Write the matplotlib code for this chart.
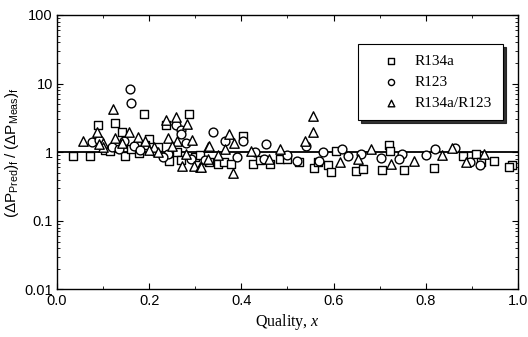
import matplotlib
matplotlib.use("Agg")
import matplotlib.pyplot as plt
from matplotlib.ticker import LogLocator, MultipleLocator, FixedLocator, NullFormatter, FixedFormatter

plt.rcParams["mathtext.fontset"] = "custom"
plt.rcParams["mathtext.rm"] = "Liberation Sans"
plt.rcParams["mathtext.it"] = "Liberation Serif:italic"
plt.rcParams["mathtext.bf"] = "Liberation Sans:bold"

# ---- data ----
r134a_x = [0.035, 0.072, 0.088, 0.125, 0.14, 0.188, 0.2, 0.148, 0.178, 0.237, 0.286, 0.243,
           0.22, 0.16, 0.26, 0.30, 0.33, 0.349, 0.363, 0.378, 0.403, 0.425, 0.461, 0.483,
           0.44, 0.50, 0.525, 0.557, 0.566, 0.588, 0.595, 0.606, 0.649, 0.664, 0.72, 0.722,
           0.706, 0.753, 0.817, 0.881, 0.91, 0.919, 0.948, 0.986, 0.98, 0.31, 0.27, 0.19,
           0.105, 0.115]
r134a_y = [0.88, 0.89, 2.5, 2.65, 2.0, 3.55, 1.54, 0.89, 0.97, 2.5, 3.65, 0.75,
           1.18, 1.13, 1.0, 0.86, 0.72, 0.67, 0.71, 0.67, 1.72, 0.67, 0.67, 0.81,
           0.77, 0.81, 0.71, 0.58, 0.71, 0.65, 0.52, 1.04, 0.54, 0.57, 1.26, 1.04,
           0.56, 0.56, 0.58, 0.89, 0.93, 0.71, 0.75, 0.65, 0.6, 0.9, 0.77, 1.27,
           1.09, 1.04]

r123_x = [0.075, 0.09, 0.159, 0.161, 0.146, 0.167, 0.18, 0.259, 0.269, 0.27, 0.338, 0.365,
          0.403, 0.454, 0.45, 0.54, 0.568, 0.577, 0.619, 0.631, 0.659, 0.703, 0.749, 0.742,
          0.801, 0.82, 0.864, 0.896, 0.917, 0.21, 0.24, 0.29, 0.32, 0.39, 0.43, 0.50,
          0.52, 0.12, 0.135, 0.23, 0.28]
r123_y = [1.4, 1.53, 8.3, 5.3, 1.45, 1.23, 1.09, 2.52, 2.14, 1.87, 2.0, 1.45,
          1.45, 1.3, 0.8, 1.23, 0.75, 1.0, 1.1, 0.89, 0.93, 0.82, 0.95, 0.8,
          0.9, 1.13, 1.17, 0.71, 0.65, 1.04, 0.95, 0.81, 0.77, 0.86, 1.0, 0.9,
          0.74, 1.18, 1.13, 0.86, 1.36]

mix_x = [0.0565, 0.086, 0.1, 0.122, 0.157, 0.126, 0.175, 0.236, 0.258, 0.283, 0.293, 0.241,
         0.272, 0.298, 0.31, 0.328, 0.328, 0.374, 0.385, 0.329, 0.365, 0.381, 0.312, 0.483,
         0.555, 0.555, 0.539, 0.613, 0.653, 0.682, 0.725, 0.774, 0.836, 0.856, 0.888, 0.927,
         0.21, 0.22, 0.26, 0.35, 0.42, 0.46, 0.10, 0.09, 0.14, 0.19, 0.2, 0.25, 0.28]
mix_y = [1.45, 2.0, 1.38, 4.3, 2.0, 1.62, 1.66, 2.98, 3.26, 2.61, 1.53, 1.62,
         0.63, 0.63, 0.6, 0.8, 1.2, 1.85, 1.38, 1.23, 1.1, 0.5, 0.6, 1.13,
         3.32, 1.95, 1.45, 0.72, 0.8, 1.13, 0.67, 0.75, 0.9, 1.17, 0.71, 0.93,
         1.18, 1.0, 1.45, 0.9, 1.04, 0.81, 1.18, 1.31, 1.36, 1.45, 1.09, 1.22, 0.95]

labels = ["R134a", "R123", "R134a/R123"]
x_ticks = [0.0, 0.2, 0.4, 0.6, 0.8, 1.0]
x_ticklabels = ["0.0", "0.2", "0.4", "0.6", "0.8", "1.0"]
y_ticks = [0.01, 0.1, 1, 10, 100]
y_ticklabels = ["0.01", "0.1", "1", "10", "100"]

# ---- figure ----
fig = plt.figure(figsize=(5.28, 3.37), dpi=100)
ax = fig.add_axes([0.108, 0.141, 0.873, 0.8145])
ax.set_yscale("log")
ax.set_xlim(0, 1)
ax.set_ylim(0.01, 100)

mk = dict(facecolor="white", edgecolor="black", linewidths=1.0, zorder=3)
ax.scatter(r134a_x, r134a_y, marker="s", s=40, label=labels[0], **mk)
ax.scatter(r123_x, r123_y, marker="o", s=40, label=labels[1], **mk)
ax.scatter(mix_x, mix_y, marker="^", s=46, label=labels[2], **mk)
ax.axhline(1.0, color="black", lw=1.3, zorder=2)

for s in ax.spines.values():
    s.set_linewidth(1.0)

ax.xaxis.set_major_locator(FixedLocator(x_ticks))
ax.xaxis.set_major_formatter(FixedFormatter(x_ticklabels))
ax.xaxis.set_minor_locator(MultipleLocator(0.1))
ax.yaxis.set_major_locator(FixedLocator(y_ticks))
ax.yaxis.set_major_formatter(FixedFormatter(y_ticklabels))
ax.yaxis.set_minor_locator(LogLocator(base=10, subs=range(2, 10)))
ax.yaxis.set_minor_formatter(NullFormatter())
ax.tick_params(which="both", direction="in", top=True, right=True, labelsize=10.5)
ax.tick_params(which="major", length=4, pad=3)
ax.tick_params(which="minor", length=2)
for t in ax.get_xticklabels() + ax.get_yticklabels():
    t.set_family("Liberation Sans")

ax.set_xlabel(r"Quality, $x$", family="Liberation Serif", fontsize=11.5, labelpad=3)
ax.set_ylabel(r"$(\Delta\mathrm{P}_{\mathrm{Pred}})_{\mathrm{f}}\ /\ (\Delta\mathrm{P}_{\mathrm{Meas}})_{\mathrm{f}}$",
              fontsize=11)
ax.yaxis.set_label_coords(-0.078, 0.5)

leg = ax.legend(loc="upper right", bbox_to_anchor=(0.967, 0.894), frameon=True,
                shadow={"color": "0.1", "alpha": 0.9},
                fancybox=False, edgecolor="black", prop={"family": "Liberation Serif", "size": 11},
                markerscale=0.7, handletextpad=0.1, labelspacing=0.45, borderpad=0.7,
                borderaxespad=0.0, handlelength=2.9)
leg.get_frame().set_linewidth(0.8)

fig.savefig("out.png", dpi=100)
